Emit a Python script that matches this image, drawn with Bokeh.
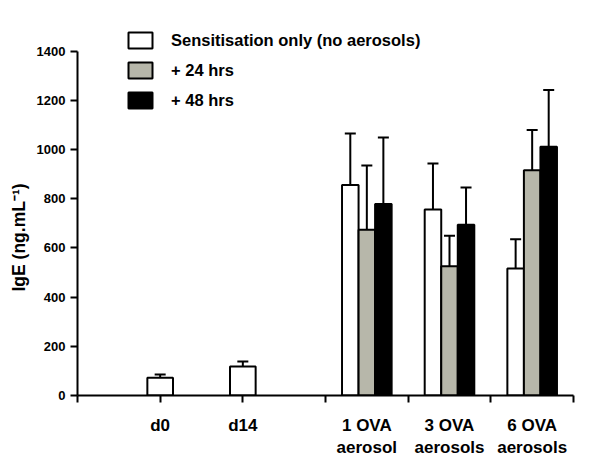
from bokeh.plotting import figure
from bokeh.models import (ColumnDataSource, Whisker, TeeHead, FixedTicker,
                          Legend, LegendItem, Range1d, Title)
from bokeh.embed import file_html
from bokeh.resources import INLINE

# ---- data ----
categories = ["d0", "d14", "1 OVA\naerosol", "3 OVA\naerosols", "6 OVA\naerosols"]
cat_pos = [1, 2, 3.5, 4.5, 5.5]
sens = [72, 118, 856, 756, 516]
sens_err = [13, 20, 209, 187, 119]
h24 = [674, 526, 916]
h24_err = [261, 124, 164]
h48 = [779, 694, 1012]
h48_err = [270, 152, 230]
series_names = ["Sensitisation only (no aerosols)", "+ 24 hrs", "+ 48 hrs"]
y_ticks = [0, 200, 400, 600, 800, 1000, 1200, 1400]
x_ticks = [0, 1, 2, 3, 4, 5, 6]
y_title = "IgE (ng.mL\u207b\u00b9)"

FONT = "Liberation Sans"
GRAY = "#b7b7aa"

# layout helpers
single_w = 0.31
grp_w = 0.2
x_sens = [p if i < 2 else p - grp_w for i, p in enumerate(cat_pos)]
w_sens = [single_w if i < 2 else grp_w for i in range(len(cat_pos))]
x_24 = list(cat_pos[2:])
x_48 = [p + grp_w for p in cat_pos[2:]]

src_s = ColumnDataSource(dict(x=x_sens, w=w_sens, top=sens,
                              up=[v + e for v, e in zip(sens, sens_err)]))
src_24 = ColumnDataSource(dict(x=x_24, top=h24,
                               up=[v + e for v, e in zip(h24, h24_err)]))
src_48 = ColumnDataSource(dict(x=x_48, top=h48,
                               up=[v + e for v, e in zip(h48, h48_err)]))

p = figure(width=600, height=460, output_backend="svg", toolbar_location=None,
           x_range=Range1d(0, 6), y_range=Range1d(0, 1525),
           min_border_left=77, min_border_right=27, min_border_top=20,
           min_border_bottom=60, outline_line_color=None,
           background_fill_color="white", border_fill_color="white")
p.grid.visible = False

# error bars
for src in (src_s, src_24, src_48):
    wk = Whisker(source=src, base="x", upper="up", lower="top",
                 line_color="black", line_width=2,
                 upper_head=TeeHead(size=11, line_width=2, line_color="black"),
                 lower_head=None, level="glyph")
    p.add_layout(wk)

r_s = p.vbar(x="x", width="w", top="top", bottom=0, source=src_s,
             fill_color="white", line_color="black", line_width=2)
r_24 = p.vbar(x="x", width=grp_w, top="top", bottom=0, source=src_24,
              fill_color=GRAY, line_color="black", line_width=2)
r_48 = p.vbar(x="x", width=grp_w, top="top", bottom=0, source=src_48,
              fill_color="black", line_color="black", line_width=2)

# y axis
ya = p.yaxis[0]
ya.ticker = FixedTicker(ticks=y_ticks)
ya.bounds = (0, 1400)
ya.minor_tick_line_color = None
ya.major_tick_in = 0
ya.major_tick_out = 7
ya.major_tick_line_width = 2
ya.axis_line_width = 2
ya.major_label_standoff = 5
ya.major_label_text_font = FONT
ya.major_label_text_font_style = "bold"
ya.major_label_text_font_size = "13px"
ya.major_label_text_color = "black"

# y-axis title, placed along the 0..1400 span of the axis
p.add_layout(Title(text=y_title, align="left", offset=104, standoff=10,
                   text_font=FONT, text_font_style="bold",
                   text_font_size="17.5px", text_color="black"), "left")

# x axis: labels at category positions, tick marks (as minor ticks) at group edges
xa = p.xaxis[0]
xa.ticker = FixedTicker(ticks=cat_pos, minor_ticks=x_ticks)
xa.major_label_overrides = {pos: lab for pos, lab in zip(cat_pos, categories)}
xa.major_tick_line_color = None
xa.major_tick_in = 0
xa.major_tick_out = 0
xa.minor_tick_in = 0
xa.minor_tick_out = 7
xa.minor_tick_line_width = 2
xa.minor_tick_line_color = "black"
xa.axis_line_width = 2
xa.major_label_standoff = 13
xa.major_label_text_font = FONT
xa.major_label_text_font_style = "bold"
xa.major_label_text_font_size = "17px"
xa.major_label_text_color = "black"

legend = Legend(items=[LegendItem(label=series_names[0], renderers=[r_s]),
                       LegendItem(label=series_names[1], renderers=[r_24]),
                       LegendItem(label=series_names[2], renderers=[r_48])],
                location=(48, 285), glyph_width=30, glyph_height=20,
                label_height=20, spacing=10, padding=0, margin=0,
                label_standoff=16, border_line_color=None,
                background_fill_alpha=0,
                label_text_font=FONT, label_text_font_style="bold",
                label_text_font_size="16.5px", label_text_color="black")
p.add_layout(legend, "center")

open("out.html", "w").write(file_html(p, INLINE))
